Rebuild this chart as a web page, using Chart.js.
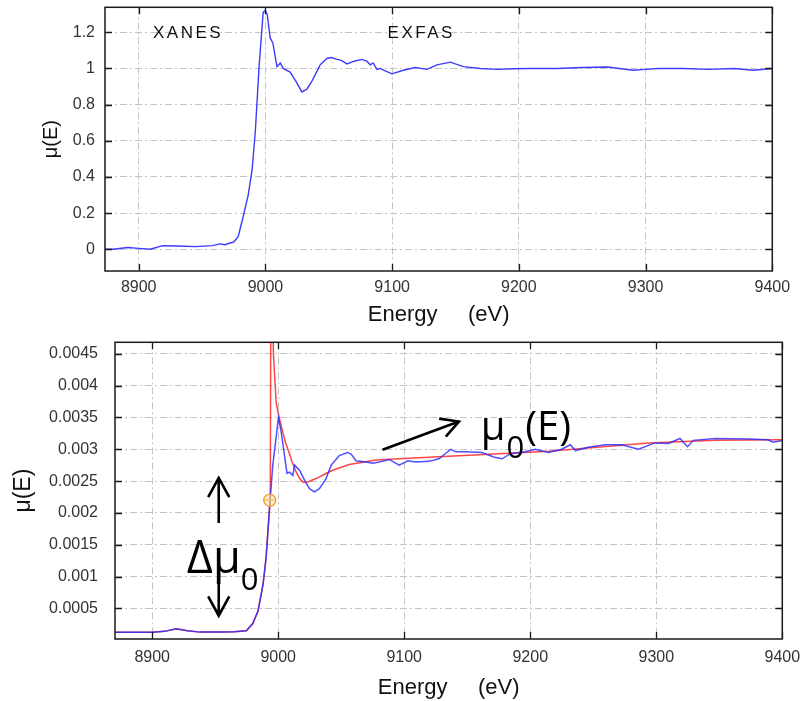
<!DOCTYPE html>
<html lang="en">
<head>
<meta charset="UTF-8">
<title>XANES / EXAFS mu(E)</title>
<script src="https://cdn.jsdelivr.net/npm/chart.js@4.4.1/dist/chart.umd.min.js"></script>
<style>
  body { margin: 0; background: #fff; }
  canvas { position: absolute; left: 0; }
  #topChart { top: 0; }
  #botChart { top: 335px; }
</style>
</head>
<body>
<canvas id="topChart" width="808" height="335"></canvas>
<canvas id="botChart" width="808" height="366"></canvas>
<script>
// top panel: normalised spectrum
const topEnergy = [8873, 8880, 8891, 8900, 8909, 8919, 8930, 8945, 8958, 8964, 8968, 8972, 8975, 8978.5,
  8982.4, 8986.4, 8989.5, 8992, 8995, 8998.2, 8999.8, 9001.4, 9003.7, 9005.9, 9009.1, 9011.7, 9014,
  9019.5, 9024, 9028.8, 9032.7, 9036.7, 9043.2, 9048.5, 9052, 9056.4, 9060, 9064.3, 9070, 9076.2, 9080,
  9082.7, 9085, 9088, 9090.6, 9095, 9099.9, 9108.8, 9118.3, 9127.5, 9135.4, 9145.9, 9156.2, 9169.6,
  9182.8, 9195.7, 9209.1, 9230, 9250, 9270, 9290, 9300, 9310, 9330, 9350, 9370, 9385, 9400];
const topMu = [0, 0, 0.01, 0.005, 0, 0.02, 0.018, 0.015, 0.02, 0.03, 0.025, 0.035, 0.04, 0.07,
  0.18, 0.3, 0.44, 0.65, 1.01, 1.31, 1.32, 1.3, 1.17, 1.14, 1.01, 1.03, 1.0,
  0.98, 0.93, 0.87, 0.885, 0.93, 1.02, 1.055, 1.06, 1.05, 1.045, 1.025, 1.04, 1.05, 1.04,
  1.02, 1.03, 0.995, 1.0, 0.985, 0.97, 0.99, 1.005, 0.995, 1.02, 1.035, 1.01, 1.0,
  0.995, 0.998, 1.0, 1.0, 1.005, 1.008, 0.99, 0.995, 1.0, 1.0, 0.995, 1.0, 0.99, 1.0];

// bottom panel: raw mu(E)
const rawEnergy = [8870.5, 8900, 8910, 8919, 8928, 8938, 8955, 8965, 8974.7, 8979.7, 8984, 8988, 8990.4,
  8992.5, 8993.7, 8995.7, 8997.6, 9000.2, 9002.4, 9005.5, 9007, 9009, 9011.6, 9013, 9015.5, 9017,
  9020.8, 9024.8, 9028.7, 9032.7, 9038, 9042, 9048.5, 9055, 9058, 9061.7, 9069.6, 9075, 9080, 9088,
  9096, 9103, 9109, 9119.7, 9127.6, 9136.9, 9141, 9148.7, 9161.6, 9171, 9177.7, 9184.3, 9196, 9204,
  9214.6, 9225, 9231.8, 9235.8, 9246, 9259.5, 9272.6, 9285.8, 9299, 9309.6, 9318.8, 9324.8, 9329.4,
  9346.5, 9372.9, 9388.7, 9392.6, 9398, 9400];
const rawMu = [0.000126, 0.000126, 0.00014, 0.000179, 0.00015, 0.000128, 0.000128, 0.000135, 0.00015,
  0.00026, 0.00046, 0.00088, 0.0013, 0.0019, 0.00223, 0.00275, 0.00306, 0.0035, 0.00327, 0.00283,
  0.00262, 0.00264, 0.00259, 0.00275, 0.0027, 0.00267, 0.00252, 0.00238, 0.00233, 0.00238, 0.00254,
  0.00275, 0.0029, 0.00295, 0.00292, 0.00282, 0.0028, 0.00278, 0.0028, 0.00284, 0.00275, 0.00282,
  0.0028, 0.00281, 0.00285, 0.003, 0.00296, 0.00296, 0.00295, 0.00288, 0.00285, 0.00293, 0.00296,
  0.003, 0.00295, 0.003, 0.00307, 0.00298, 0.00303, 0.00307, 0.00307, 0.003, 0.0031, 0.00309, 0.00317,
  0.00304, 0.00314, 0.00317, 0.00316, 0.00315, 0.00311, 0.00313, 0.00313];

// bottom panel: mu0(E) background
const bgEnergy = [8870.5, 8900, 8910, 8919, 8928, 8938, 8955, 8965, 8974.7, 8979.7, 8984, 8988, 8990.4,
  8992.5, 8993.7, 8994.3, 8996.2, 8997.8, 8998.4, 9000.4, 9003.6, 9005.7, 9009, 9011, 9014.3, 9017,
  9020, 9024, 9030, 9038, 9043.2, 9056.4, 9077.5, 9096, 9135.5, 9214.6, 9293.7, 9346.5, 9398, 9400];
const bgMu = [0.000126, 0.000126, 0.00014, 0.000179, 0.00015, 0.000128, 0.000128, 0.000135, 0.00015,
  0.00026, 0.00046, 0.00088, 0.0013, 0.0019, 0.00223, 0.0065, 0.0045, 0.00394, 0.00373, 0.00353,
  0.00327, 0.00311, 0.00293, 0.0028, 0.00264, 0.00254, 0.00248, 0.00249, 0.00254, 0.00262, 0.00267,
  0.00276, 0.00283, 0.00285, 0.00289, 0.00297, 0.0031, 0.00314, 0.00315, 0.00315];

// edge position E0
const e0Energy = [8993.3];
const e0Mu = [0.0022];

const energyTicks = [8900, 9000, 9100, 9200, 9300, 9400];
const topMuTicks = [0, 0.2, 0.4, 0.6, 0.8, 1, 1.2];
const botMuTicks = [0.0005, 0.001, 0.0015, 0.002, 0.0025, 0.003, 0.0035, 0.004, 0.0045];

const pts = (xs, ys) => xs.map((x, i) => ({ x: x, y: ys[i] }));
const tickFont = { family: '"Liberation Sans", Arial, sans-serif', size: 16 };
const tickColor = '#333';
const gridStyle = { color: '#c4c4c4', lineWidth: 1, drawTicks: false };
const gridBorder = { display: false, dash: [7, 3, 2, 3] };

function useTicks(list) {
  return scale => { scale.ticks = list.map(v => ({ value: v })); };
}

// black frame plus inward tick marks on all four sides
const framePlugin = {
  id: 'frame',
  afterDatasetsDraw(chart) {
    const { ctx, chartArea: a, scales: { x, y } } = chart;
    ctx.save();
    ctx.strokeStyle = '#1a1a1a';
    ctx.lineWidth = 1.5;
    ctx.strokeRect(a.left, a.top, a.right - a.left, a.bottom - a.top);
    ctx.lineWidth = 1.3;
    ctx.beginPath();
    x.ticks.forEach(t => {
      const px = Math.round(x.getPixelForValue(t.value)) + 0.5;
      ctx.moveTo(px, a.bottom); ctx.lineTo(px, a.bottom - 7);
      ctx.moveTo(px, a.top); ctx.lineTo(px, a.top + 7);
    });
    y.ticks.forEach(t => {
      const py = Math.round(y.getPixelForValue(t.value)) + 0.5;
      ctx.moveTo(a.left, py); ctx.lineTo(a.left + 7, py);
      ctx.moveTo(a.right, py); ctx.lineTo(a.right - 7, py);
    });
    ctx.stroke();
    ctx.restore();
  }
};

function arrow(ctx, x1, y1, x2, y2, head, spread) {
  const ang = Math.atan2(y2 - y1, x2 - x1);
  ctx.beginPath();
  ctx.moveTo(x1, y1);
  ctx.lineTo(x2, y2);
  ctx.moveTo(x2 - head * Math.cos(ang - spread), y2 - head * Math.sin(ang - spread));
  ctx.lineTo(x2, y2);
  ctx.lineTo(x2 - head * Math.cos(ang + spread), y2 - head * Math.sin(ang + spread));
  ctx.stroke();
}

const topNotes = {
  id: 'topNotes',
  afterDatasetsDraw(chart) {
    const { ctx, scales: { x, y } } = chart;
    ctx.save();
    ctx.fillStyle = '#111';
    ctx.font = '17px "Liberation Sans", Arial, sans-serif';
    ctx.letterSpacing = '2.5px';
    ctx.textBaseline = 'middle';
    ctx.fillText('XANES', x.getPixelForValue(8911.3), y.getPixelForValue(1.192));
    ctx.fillText('EXFAS', x.getPixelForValue(9096.4), y.getPixelForValue(1.192));
    ctx.restore();
  }
};

const botNotes = {
  id: 'botNotes',
  afterDatasetsDraw(chart) {
    const { ctx, scales: { x, y } } = chart;
    const big = '45px "Open Sans", sans-serif';
    const mid = '40px "Open Sans", sans-serif';
    const sub = '31px "Open Sans", sans-serif';
    ctx.save();
    ctx.fillStyle = '#000';
    ctx.strokeStyle = '#000';
    ctx.lineWidth = 2.6;
    ctx.textBaseline = 'alphabetic';

    // delta mu0 with its two arrows
    const ax = x.getPixelForValue(8952.8);
    arrow(ctx, ax, y.getPixelForValue(0.00184), ax, y.getPixelForValue(0.00255), 22, 0.5);
    arrow(ctx, ax, y.getPixelForValue(0.00124), ax, y.getPixelForValue(0.000386), 22, 0.5);
    let tx = x.getPixelForValue(8927.5), ty = y.getPixelForValue(0.001056);
    ctx.font = big;
    ctx.fillText('\u0394\u03bc', tx, ty);
    tx += ctx.measureText('\u0394\u03bc').width;
    ctx.font = sub;
    ctx.fillText('0', tx, ty + 17);

    // mu0(E) label with its arrow
    arrow(ctx, x.getPixelForValue(9082.8), y.getPixelForValue(0.002992),
      x.getPixelForValue(9143.4), y.getPixelForValue(0.003435), 20, 0.5);
    tx = x.getPixelForValue(9160.8); ty = y.getPixelForValue(0.003143);
    ctx.font = mid;
    ctx.fillText('\u03bc', tx, ty);
    tx += ctx.measureText('\u03bc').width + 1;
    ctx.font = sub;
    ctx.fillText('0', tx, ty + 18);
    tx += ctx.measureText('0').width + 1;
    ctx.font = mid;
    ctx.fillText('(E)', tx, ty);
    ctx.restore();
  }
};

// top chart
new Chart(document.getElementById('topChart'), {
  type: 'line',
  data: {
    datasets: [{
      data: pts(topEnergy, topMu),
      borderColor: '#3c3cff',
      borderWidth: 1.4,
      pointRadius: 0,
      tension: 0
    }]
  },
  options: {
    responsive: false,
    animation: false,
    layout: { padding: { top: 7.3, right: 35.7, left: 0, bottom: 0 } },
    plugins: { legend: { display: false }, tooltip: { enabled: false } },
    scales: {
      x: {
        type: 'linear', min: 8873.4, max: 9400,
        afterBuildTicks: useTicks(energyTicks),
        ticks: { padding: 7, font: tickFont, color: tickColor, maxRotation: 0, callback: v => String(v) },
        grid: gridStyle, border: gridBorder,
        title: { display: true, text: 'Energy     (eV)', color: '#111',
          font: { family: '"Liberation Sans", Arial, sans-serif', size: 22 }, padding: { top: 0, bottom: 6.8 } },
        afterFit: s => { s.height = 64; s.paddingLeft = 0; s.paddingRight = 0; }
      },
      y: {
        type: 'linear', min: -0.12, max: 1.338,
        afterBuildTicks: useTicks(topMuTicks),
        ticks: { padding: 10, font: tickFont, color: tickColor, callback: v => String(v) },
        grid: gridStyle, border: gridBorder,
        title: { display: true, text: '\u03bc(E)', color: '#111',
          font: { family: '"Liberation Sans", Arial, sans-serif', size: 20 }, padding: { top: 39, bottom: 0 } },
        afterFit: s => { s.width = 105; s.paddingTop = 0; s.paddingBottom = 0; }
      }
    }
  },
  plugins: [framePlugin, topNotes]
});

// bottom chart
new Chart(document.getElementById('botChart'), {
  type: 'line',
  data: {
    datasets: [{
      data: pts(e0Energy, e0Mu),
      showLine: false,
      pointStyle: 'circle',
      pointRadius: 6,
      pointBorderWidth: 1.3,
      pointBorderColor: '#f0a02a',
      pointBackgroundColor: 'rgba(255,215,150,0.45)',
      order: 0
    }, {
      data: pts(e0Energy, e0Mu),
      showLine: false,
      pointStyle: 'cross',
      pointRadius: 6,
      pointBorderWidth: 1.3,
      pointBorderColor: '#f0a02a',
      order: 0
    }, {
      data: pts(rawEnergy, rawMu),
      borderColor: 'rgba(40,40,255,0.82)',
      borderWidth: 1.5,
      pointRadius: 0,
      tension: 0,
      order: 1
    }, {
      data: pts(bgEnergy, bgMu),
      borderColor: '#ff4545',
      borderWidth: 1.5,
      pointRadius: 0,
      tension: 0,
      order: 2
    }]
  },
  options: {
    responsive: false,
    animation: false,
    layout: { padding: { top: 4.3, right: 25.7, left: 0, bottom: 0 } },
    plugins: { legend: { display: false }, tooltip: { enabled: false } },
    scales: {
      x: {
        type: 'linear', min: 8870.5, max: 9400,
        afterBuildTicks: useTicks(energyTicks),
        ticks: { padding: 9, font: tickFont, color: tickColor, maxRotation: 0, callback: v => String(v) },
        grid: gridStyle, border: gridBorder,
        title: { display: true, text: 'Energy     (eV)', color: '#111',
          font: { family: '"Liberation Sans", Arial, sans-serif', size: 22 }, padding: { top: 0, bottom: 0 } },
        afterFit: s => { s.height = 62; s.paddingLeft = 0; s.paddingRight = 0; }
      },
      y: {
        type: 'linear', min: 0.00002, max: 0.00468,
        afterBuildTicks: useTicks(botMuTicks),
        ticks: { padding: 17, font: tickFont, color: tickColor, callback: v => String(v) },
        grid: gridStyle, border: gridBorder,
        title: { display: true, text: '\u03bc(E)', color: '#111',
          font: { family: '"Liberation Sans", Arial, sans-serif', size: 23 }, padding: { top: 9.5, bottom: 0 } },
        afterFit: s => { s.width = 115; s.paddingTop = 0; s.paddingBottom = 0; }
      }
    }
  },
  plugins: [framePlugin, botNotes]
});
</script>
</body>
</html>
